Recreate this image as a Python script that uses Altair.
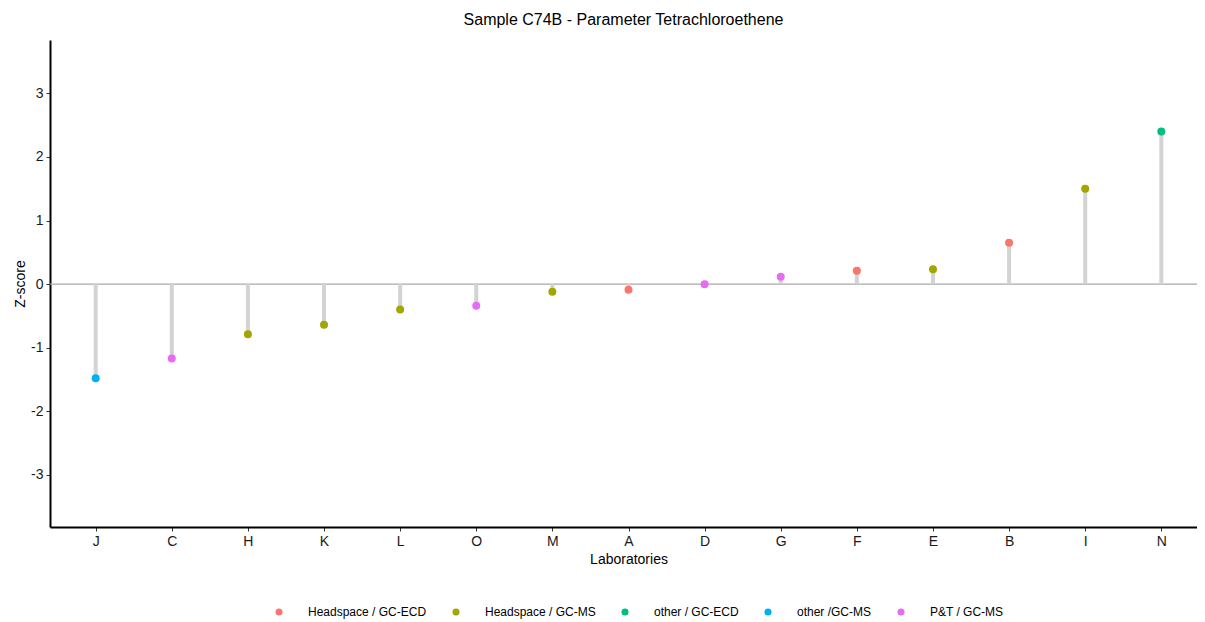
import altair as alt
import pandas as pd

labs = ["J", "C", "H", "K", "L", "O", "M", "A", "D", "G", "F", "E", "B", "I", "N"]
zscores = [-1.48, -1.17, -0.79, -0.64, -0.40, -0.34, -0.12, -0.09, 0.0, 0.115, 0.21, 0.235, 0.65, 1.50, 2.40]
methods = ["other /GC-MS", "P&T / GC-MS", "Headspace / GC-MS", "Headspace / GC-MS", "Headspace / GC-MS",
           "P&T / GC-MS", "Headspace / GC-MS", "Headspace / GC-ECD", "P&T / GC-MS", "P&T / GC-MS",
           "Headspace / GC-ECD", "Headspace / GC-MS", "Headspace / GC-ECD", "Headspace / GC-MS", "other / GC-ECD"]
method_order = ["Headspace / GC-ECD", "Headspace / GC-MS", "other / GC-ECD", "other /GC-MS", "P&T / GC-MS"]
method_colors = ["#F8766D", "#A3A500", "#00BF7D", "#00B0F6", "#E76BF3"]

df = pd.DataFrame({"lab": labs, "z": zscores, "method": methods, "zero": [0.0] * len(labs)})

FONT = "Liberation Sans"
ydom = [-3.82, 3.84]

xscale = alt.Scale(type="point", padding=0.6, range=[0, 1157])
xenc = alt.X("lab:N", sort=labs, scale=xscale,
             axis=alt.Axis(title="Laboratories", labelAngle=0, labelFontSize=14, titleFontSize=14,
                           labelColor="#1a1a1a", titleColor="#000000", domainColor="#000000",
                           domainWidth=2, tickColor="#333333", tickSize=4, labelPadding=3,
                           titlePadding=4, grid=False, labelFont=FONT, titleFont=FONT,
                           titleFontWeight="normal"))
yscale = alt.Scale(domain=ydom, nice=False, zero=False)

stems = alt.Chart(df).mark_rule(color="#D3D3D3", strokeWidth=4).encode(
    x=xenc,
    y=alt.Y("z:Q", scale=yscale,
            axis=alt.Axis(title="Z-score", values=[-3, -2, -1, 0, 1, 2, 3],
                          labelExpr="'' + datum.value",
                          labelFontSize=14, titleFontSize=14, labelColor="#1a1a1a",
                          titleColor="#000000", domainColor="#000000", domainWidth=2,
                          tickColor="#333333", tickSize=4, labelPadding=3, titlePadding=3,
                          grid=False, labelFont=FONT, titleFont=FONT, titleFontWeight="normal")),
    y2="zero:Q",
)

zero_line = alt.Chart(pd.DataFrame({"y": [0.0]})).mark_rule(color="#A9A9A9", strokeWidth=1.2).encode(
    y=alt.Y("y:Q", scale=yscale)
)

points = alt.Chart(df).mark_circle(size=64, opacity=1).encode(
    x=alt.X("lab:N", sort=labs),
    y=alt.Y("z:Q", scale=yscale),
    color=alt.Color("method:N", scale=alt.Scale(domain=method_order, range=method_colors),
                    legend=alt.Legend(title=None, orient="none", direction="horizontal",
                                      legendX=223, legendY=566, labelFontSize=12, labelFont=FONT,
                                      labelColor="#000000", symbolSize=50, symbolType="circle",
                                      labelOffset=23, columnPadding=23, symbolStrokeWidth=0)),
)

chart = alt.layer(zero_line, stems, points).properties(
    width=1147, height=487,
    background="white",
    title=alt.TitleParams("Sample C74B - Parameter Tetrachloroethene", fontSize=16, font=FONT,
                          fontWeight="normal", color="#000000", anchor="middle", offset=12),
    autosize=alt.AutoSizeParams(type="none"),
    padding={"left": 42, "top": 32, "right": 0, "bottom": 94},
).configure_view(stroke=None)

chart.save("out.html", embed_options={"renderer": "svg", "actions": False})
